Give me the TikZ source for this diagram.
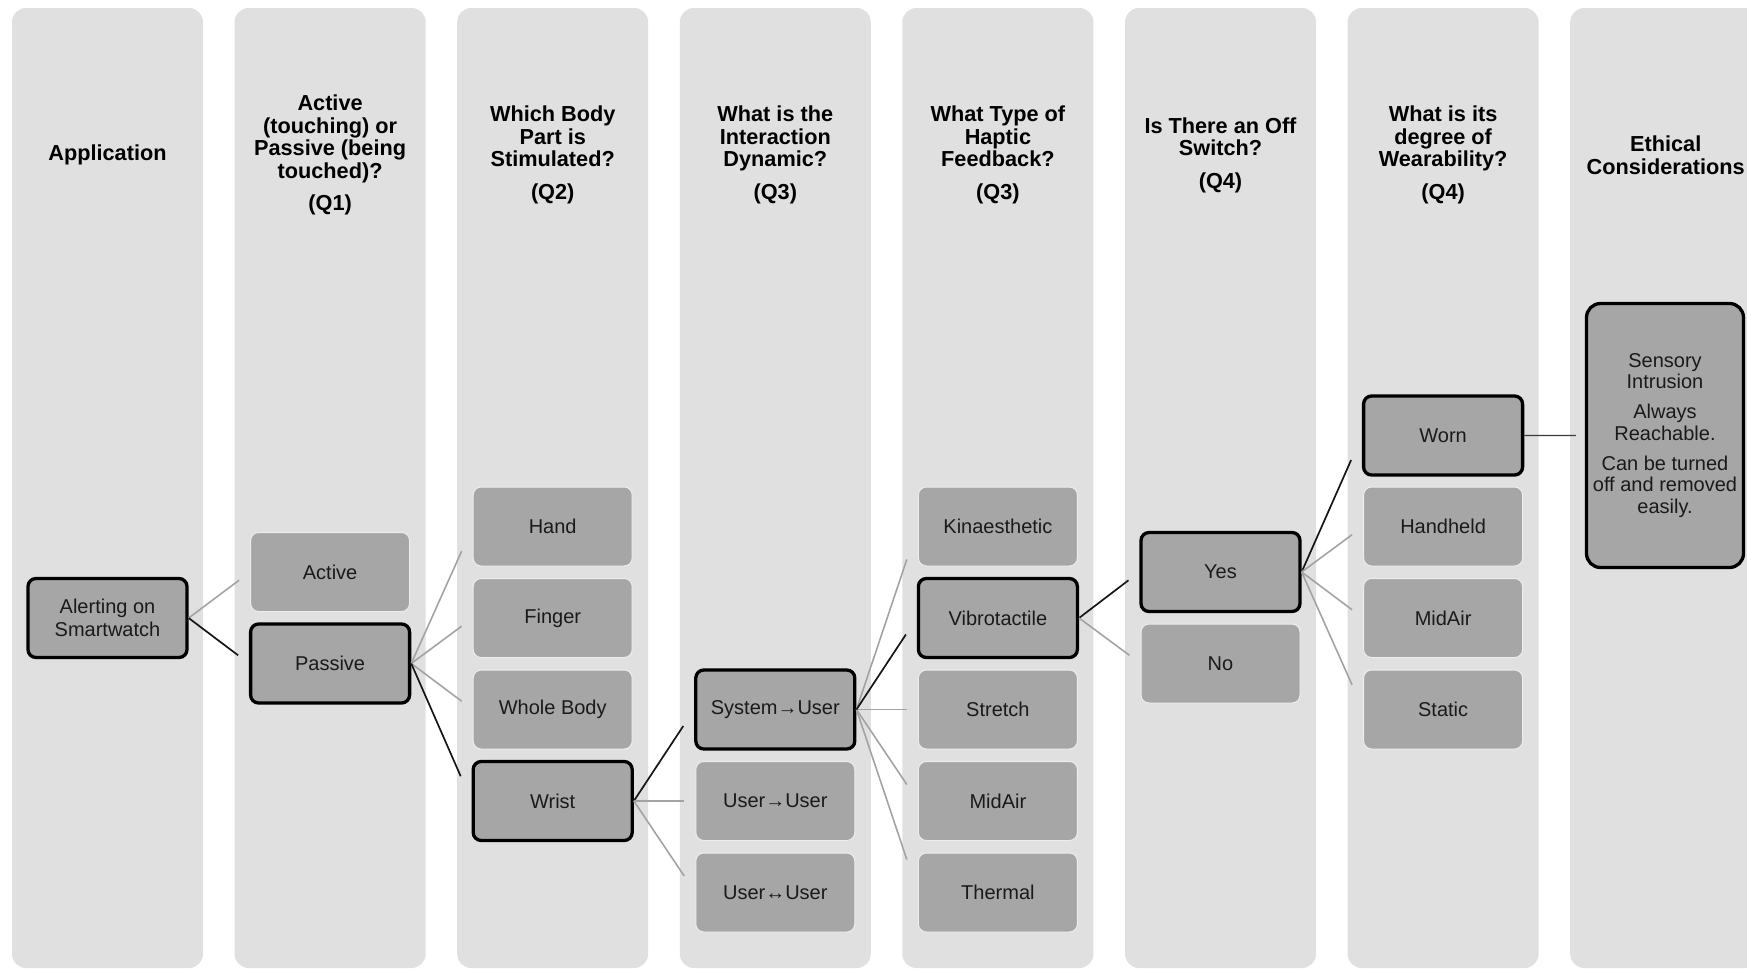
\documentclass[tikz,border=0pt]{standalone}
\usepackage{fontspec}
\setmainfont{Liberation Sans}
\usetikzlibrary{calc}
\definecolor{colbg}{HTML}{E0E0E0}
\definecolor{boxbg}{HTML}{A6A6A6}
\definecolor{lightline}{HTML}{A3A3A3}
\definecolor{darkline}{HTML}{161616}
\definecolor{midline}{HTML}{3A3A3A}
\definecolor{txt}{HTML}{1A1A1A}
\definecolor{boxedge}{HTML}{EDEDED}
\begin{document}
\begin{tikzpicture}[x=0.5pt,y=-0.5pt,
 colbox/.style={fill=colbg, draw=none, rounded corners=7pt},
 hdr/.style={font=\bfseries\fontsize{10.85}{11.25}\selectfont, align=center, text=black, inner sep=0pt},
 opt/.style={fill=boxbg, draw=boxedge, line width=0.5pt, rounded corners=4pt, minimum width=79.5pt, minimum height=39.5pt, font=\fontsize{10}{11.35}\selectfont, text=txt, align=center, inner sep=1pt},
 sel/.style={opt, draw=black, line width=1.65pt},
 ethbox/.style={sel, rounded corners=7pt, minimum width=78.5pt, minimum height=132pt, font=\fontsize{10}{10.75}\selectfont},
 lnk/.style={draw=lightline, line width=0.8pt},
 slnk/.style={draw=darkline, line width=0.85pt},
 mlnk/.style={draw=midline, line width=0.7pt}
]
\useasboundingbox (0,0) rectangle (1747,969);
\clip (0,0) rectangle (1747,969);
\foreach \k in {0,...,7} {
  \path[colbox] ({12+222.6*\k},8) rectangle ({203+222.6*\k},968);
}
% headers
\node[hdr] (h1) at (107.5,155) {Application};
\node[hdr] (h2) at (330.1,155) {Active\\(touching) or\\Passive (being\\touched)?\\[5pt](Q1)};
\node[hdr] (h3) at (552.7,155) {Which Body\\Part is\\Stimulated?\\[5pt](Q2)};
\node[hdr] (h4) at (775.3,155) {What is the\\Interaction\\Dynamic?\\[5pt](Q3)};
\node[hdr] (h5) at (997.9,155) {What Type of\\Haptic\\Feedback?\\[5pt](Q3)};
\node[hdr] (h6) at (1220.5,155) {Is There an Off\\Switch?\\[5pt](Q4)};
\node[hdr] (h7) at (1443.1,155) {What is its\\degree of\\Wearability?\\[5pt](Q4)};
\node[hdr] (h8) at (1665.7,155) {Ethical\\Considerations};
% column 1
\node[sel] (alert) at (107.5,618) {Alerting on\\Smartwatch};
% column 2
\node[opt] (active) at (330.1,572) {Active};
\node[sel] (passive) at (330.1,663.5) {Passive};
% column 3
\node[opt] (hand) at (552.7,526.5) {Hand};
\node[opt] (finger) at (552.7,618) {Finger};
\node[opt] (whole) at (552.7,709.5) {Whole Body};
\node[sel] (wrist) at (552.7,801) {Wrist};
% column 4
\node[sel] (sysuser) at (775.3,709.5) {System→User};
\node[opt] (useruser) at (775.3,801) {User→User};
\node[opt] (userboth) at (775.3,892.5) {User↔User};
% column 5
\node[opt] (kin) at (997.9,526.5) {Kinaesthetic};
\node[sel] (vibro) at (997.9,618) {Vibrotactile};
\node[opt] (stretch) at (997.9,709.5) {Stretch};
\node[opt] (midairA) at (997.9,801) {MidAir};
\node[opt] (thermal) at (997.9,892.5) {Thermal};
% column 6
\node[sel] (yes) at (1220.5,572) {Yes};
\node[opt] (no) at (1220.5,663.5) {No};
% column 7
\node[sel] (worn) at (1443.1,435.5) {Worn};
\node[opt] (handheld) at (1443.1,526.5) {Handheld};
\node[opt] (midairB) at (1443.1,618) {MidAir};
\node[opt] (static) at (1443.1,709.5) {Static};
% column 8
\node[ethbox] (ethic) at (1665,435.5) {Sensory\\Intrusion\\[4.25pt]Always\\Reachable.\\[4.25pt]Can be turned\\off and removed\\easily.};
% connectors
\draw[lnk] (alert.east) -- ($(alert.east)!0.82!(active.west)$);
\draw[slnk] (alert.east) -- ($(alert.east)!0.82!(passive.west)$);
\foreach \c in {hand,finger,whole} {
  \draw[lnk] (passive.east) -- ($(passive.east)!0.82!(\c.west)$);
}
\draw[slnk] (passive.east) -- ($(passive.east)!0.82!(wrist.west)$);
\draw[slnk] (wrist.east) -- ($(wrist.east)!0.82!(sysuser.west)$);
\foreach \c in {useruser,userboth} {
  \draw[lnk] (wrist.east) -- ($(wrist.east)!0.82!(\c.west)$);
}
\foreach \c in {kin,stretch,midairA,thermal} {
  \draw[lnk] (sysuser.east) -- ($(sysuser.east)!0.82!(\c.west)$);
}
\draw[slnk] (sysuser.east) -- ($(sysuser.east)!0.82!(vibro.west)$);
\draw[slnk] (vibro.east) -- ($(vibro.east)!0.82!(yes.west)$);
\draw[lnk] (vibro.east) -- ($(vibro.east)!0.82!(no.west)$);
\draw[slnk] (yes.east) -- ($(yes.east)!0.82!(worn.west)$);
\foreach \c in {handheld,midairB,static} {
  \draw[lnk] (yes.east) -- ($(yes.east)!0.82!(\c.west)$);
}
\draw[mlnk] (worn.east) -- ($(worn.east)!0.85!(ethic.west)$);
\end{tikzpicture}
\end{document}
